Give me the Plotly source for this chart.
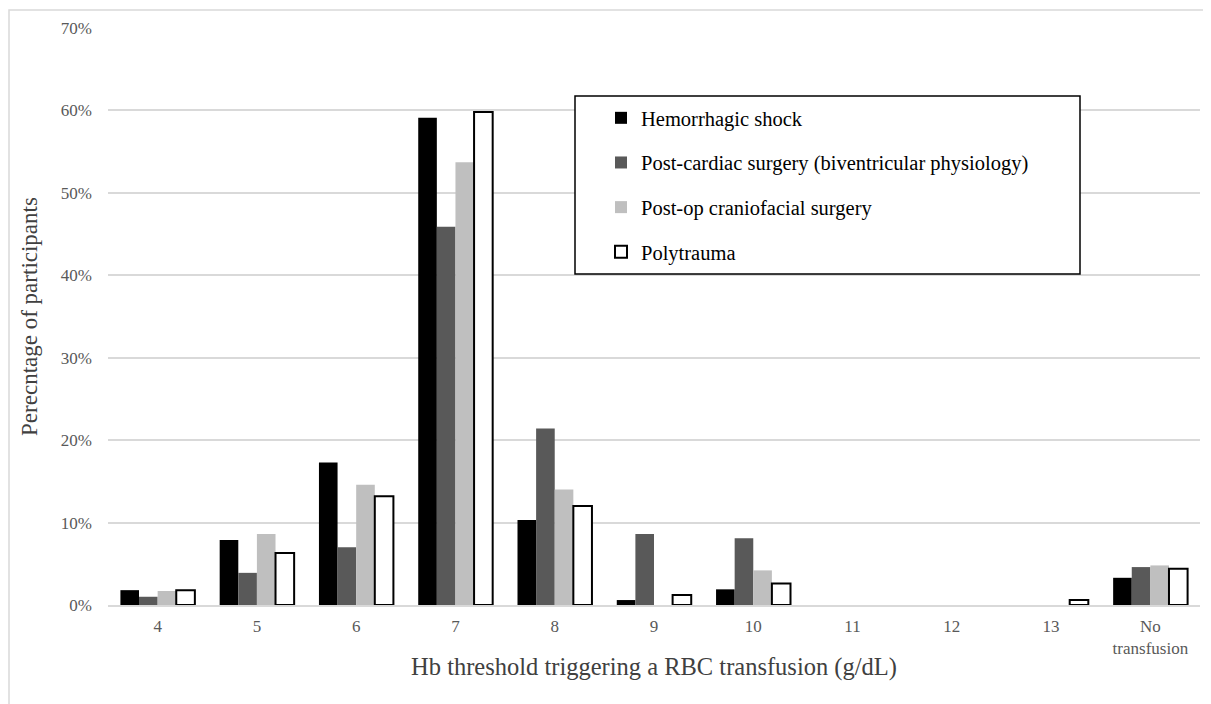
import plotly.graph_objects as go

categories = ["4", "5", "6", "7", "8", "9", "10", "11", "12", "13", "No<br>transfusion"]
hemorrhagic_shock = [0.018, 0.079, 0.173, 0.591, 0.103, 0.006, 0.019, 0, 0, 0, 0.033]
post_cardiac = [0.010, 0.039, 0.070, 0.459, 0.214, 0.086, 0.081, 0, 0, 0, 0.046]
post_op_craniofacial = [0.017, 0.086, 0.146, 0.537, 0.140, 0, 0.042, 0, 0, 0, 0.048]
polytrauma = [0.018, 0.063, 0.132, 0.598, 0.120, 0.012, 0.026, 0, 0, 0.006, 0.044]

series = [
    ("Hemorrhagic shock", hemorrhagic_shock, "#000000", "#000000", 0),
    ("Post-cardiac surgery (biventricular physiology)", post_cardiac, "#595959", "#595959", 0),
    ("Post-op craniofacial surgery", post_op_craniofacial, "#bfbfbf", "#bfbfbf", 0),
    ("Polytrauma", polytrauma, "#ffffff", "#000000", 2),
]

FONT = "Liberation Serif, Times New Roman, serif"

fig = go.Figure()
for i, (name, vals, fill, line, lw) in enumerate(series):
    widths = [lw if v > 0 else 0 for v in vals]
    fig.add_trace(go.Bar(
        x=categories, y=vals, name=name,
        marker=dict(color=fill, line=dict(color=line, width=widths)),
        legendgroup=f"g{i}",
    ))

# the page body adds an 8px offset; work in page pixels and convert
O = 8
W, H = 1211 - O, 704 - O
L, R, T, B = 108 - O, 11, 28 - O, 99
pw = W - L - R
ph = H - T - B

def px(x):
    return (x - O - L) / pw

def py(y):
    return (H - B - (y - O)) / ph

fig.update_layout(
    width=W, height=H,
    margin=dict(l=L, r=R, t=T, b=B),
    paper_bgcolor="white", plot_bgcolor="white",
    barmode="group", bargap=0.25, bargroupgap=0,
    font=dict(family=FONT, color="#595959"),
    showlegend=True,
    legend=dict(
        x=px(601), y=py(98), xanchor="left", yanchor="top",
        bgcolor="rgba(0,0,0,0)", borderwidth=0,
        font=dict(family=FONT, size=20.5, color="#000000"),
        traceorder="grouped", tracegroupgap=15,
    ),
    xaxis=dict(
        type="category", automargin=False,
        showgrid=False, showline=True, linecolor="#d9d9d9", linewidth=1.5,
        ticks="", tickfont=dict(family=FONT, size=17, color="#595959"),
        ticklabelstandoff=5,
        title=dict(text="Hb threshold triggering a RBC transfusion (g/dL)",
                   font=dict(family=FONT, size=24.5, color="#404040"), standoff=1),
    ),
    yaxis=dict(
        range=[0, 0.7], dtick=0.1, tickformat=".0%", automargin=False,
        showgrid=True, gridcolor="#d9d9d9", gridwidth=1.5,
        zeroline=False, showline=False, ticks="",
        tickfont=dict(family=FONT, size=17, color="#595959"),
        ticklabelstandoff=15,
        title=dict(text="Perecntage of participants",
                   font=dict(family=FONT, size=23, color="#404040"), standoff=16),
    ),
    shapes=[
        dict(type="rect", xref="paper", yref="paper",
             x0=px(9), x1=px(1215), y0=py(712), y1=py(10),
             line=dict(color="#d9d9d9", width=1.5), fillcolor="rgba(0,0,0,0)", layer="below"),
        dict(type="rect", xref="paper", yref="paper",
             x0=px(575), x1=px(1080), y0=py(274), y1=py(96),
             line=dict(color="#000000", width=1.5), fillcolor="white", layer="above"),
    ],
)

fig.write_html("out.html")
